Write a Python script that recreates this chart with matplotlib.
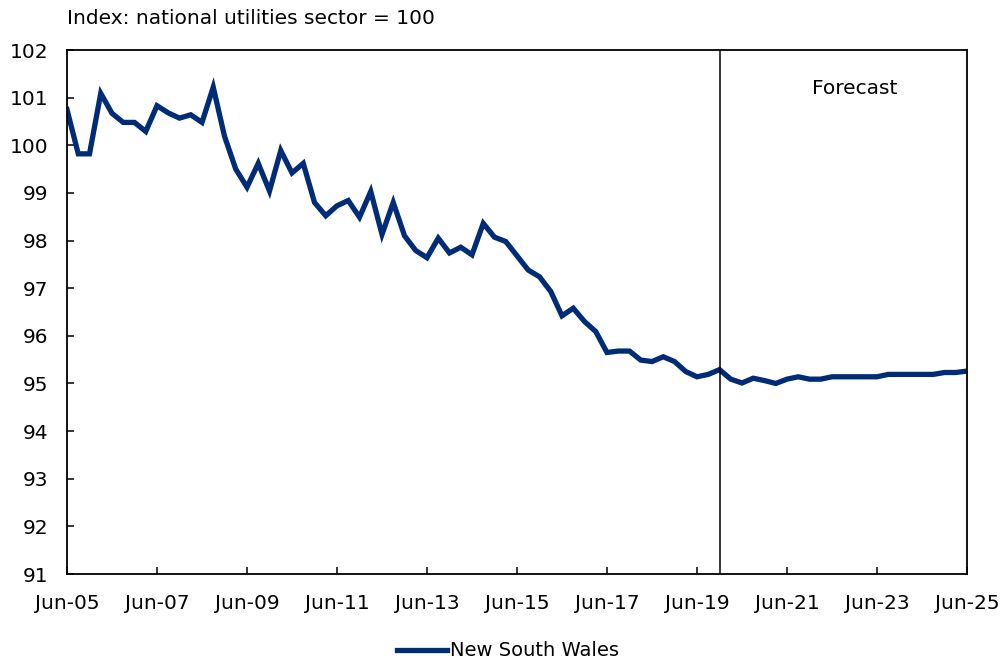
import matplotlib
matplotlib.use("Agg")
import matplotlib.pyplot as plt
import numpy as np

plt.rcParams['font.family'] = ['DejaVu Sans']

# Quarterly index, Jun-05 .. Jun-25
nsw_values = [
    100.75, 99.82, 99.82, 101.09, 100.67, 100.48, 100.48, 100.29,
    100.83, 100.68, 100.57, 100.64, 100.48, 101.22, 100.19, 99.50,
    99.12, 99.62, 99.04, 99.89, 99.42, 99.62, 98.80, 98.52,
    98.73, 98.84, 98.49, 99.03, 98.13, 98.80, 98.10, 97.79,
    97.64, 98.05, 97.74, 97.86, 97.70, 98.36, 98.07, 97.98,
    97.68, 97.38, 97.24, 96.93, 96.42, 96.58, 96.30, 96.09,
    95.65, 95.68, 95.68, 95.49, 95.46, 95.56, 95.46, 95.25,
    95.14, 95.19, 95.29, 95.09, 95.01, 95.11, 95.06, 95.00,
    95.09, 95.14, 95.09, 95.09, 95.14, 95.14, 95.14, 95.14,
    95.14, 95.19, 95.19, 95.19, 95.19, 95.19, 95.23, 95.23,
    95.26,
]
tick_labels = ["Jun-05", "Jun-07", "Jun-09", "Jun-11", "Jun-13", "Jun-15",
               "Jun-17", "Jun-19", "Jun-21", "Jun-23", "Jun-25"]
y_ticks = list(range(91, 103))
forecast_start_index = 58  # Dec-19
series_name = "New South Wales"
y_title = "Index: national utilities sector = 100"
forecast_label = "Forecast"

W, H = 1005, 661
fig = plt.figure(figsize=(W / 100, H / 100), dpi=100)
ax = fig.add_axes([67 / W, 1 - 574 / H, 900 / W, 524 / H])

x = np.arange(len(nsw_values))
ax.plot(x, nsw_values, color="#002B77", lw=3.8, solid_joinstyle="miter",
        label=series_name)
ax.axvline(forecast_start_index, color="black", lw=1.1)

ax.set_xlim(0, len(nsw_values) - 1)
ax.set_ylim(91, 102)
ax.set_xticks(np.arange(0, len(nsw_values), 8))
ax.set_xticklabels(tick_labels)
ax.set_yticks(y_ticks)
ax.tick_params(axis="both", direction="in", length=5, width=1.1,
               labelsize=14.5, color="black")
ax.tick_params(axis="x", pad=14.5)
ax.tick_params(axis="y", pad=13.5)
for s in ax.spines.values():
    s.set_linewidth(1.3)
    s.set_color("black")

ax.text(855 / W, 1 - 88 / H, forecast_label, transform=fig.transFigure,
        fontsize=14.5, ha="center", va="center")
fig.text(67 / W, 1 - 19 / H, y_title, fontsize=14.5, ha="left", va="center")

leg = fig.legend(loc="center", bbox_to_anchor=(508 / W, 1 - 651 / H),
                 frameon=False, fontsize=14, handlelength=2.6,
                 handletextpad=0.15)

fig.savefig("out.png", dpi=100)
